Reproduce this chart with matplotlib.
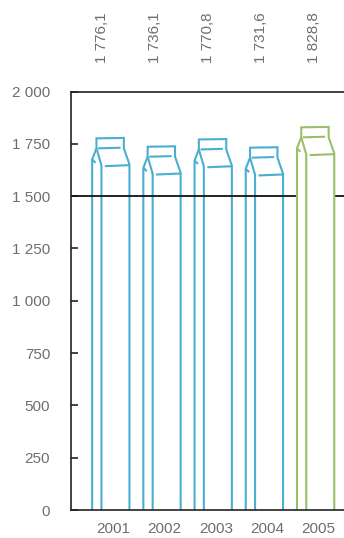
import matplotlib
matplotlib.use("Agg")
import matplotlib.pyplot as plt
import matplotlib.transforms as mtransforms

plt.rcParams['font.family'] = ['Liberation Sans', 'DejaVu Sans']

# Data
years = ["2001", "2002", "2003", "2004", "2005"]
values = [1776.1, 1736.1, 1770.8, 1731.6, 1828.8]
colors = ["#4aaed1", "#4aaed1", "#4aaed1", "#4aaed1", "#9bbe6b"]
y_ticks = [0, 250, 500, 750, 1000, 1250, 1500, 1750, 2000]
reference_level = 1500

TEXT = "#6e6e6e"
AXIS = "#222222"


def fmt_thousands(v, decimals=0):
    s = f"{v:,.{decimals}f}"
    return s.replace(",", " ").replace(".", ",")


fig = plt.figure(figsize=(3.44, 5.38), dpi=100)
W_PX, H_PX = 344, 538
left_px, right_px, top_px, bottom_px = 71, 344, 91.5, 510
ax = fig.add_axes([left_px / W_PX, 1 - bottom_px / H_PX,
                   (right_px - left_px) / W_PX, (bottom_px - top_px) / H_PX])

step_px = 51.2
x0 = -(110.8 - left_px) / step_px
ax.set_xlim(x0, x0 + (right_px - left_px) / step_px)
ax.set_ylim(0, 2000)

# unit conversions for carton geometry (pixel-like sizes -> data units)
ux = 1.0 / step_px
uy = 2000.0 / (bottom_px - top_px)
carton_w = 37.3 * ux


def draw_carton(ax, xc, top, color, filled, z):
    L = xc - carton_w / 2

    def P(dx, dy):
        return L + dx * ux, top - dy * uy

    outline = [(L, 0), P(0, 21), P(4.3, 10), P(4.3, 0), P(31.7, -0.4),
               P(31.7, 10), P(37.3, 26), (L + 37.3 * ux, 0)]
    if filled:
        ax.fill([p[0] for p in outline], [p[1] for p in outline],
                color="white", zorder=z, lw=0)
    kw = dict(color=color, lw=1.5, zorder=z + 0.1,
              solid_joinstyle="miter", solid_capstyle="butt")
    ax.plot([p[0] for p in outline], [p[1] for p in outline], **kw)
    # front face edge
    front = [P(4.3, 10), P(9.3, 27), (L + 9.3 * ux, 0)]
    ax.plot([p[0] for p in front], [p[1] for p in front], **kw)
    # roof fold lines
    for a, b in [((6, 10), (28.3, 9.4)),
                 ((12.7, 27.8), (37.5, 26.8)),
                 ((0, 21), (3.4, 24.5))]:
        pa, pb = P(*a), P(*b)
        ax.plot([pa[0], pb[0]], [pa[1], pb[1]], **kw)


for i, (v, c) in enumerate(zip(values, colors)):
    highlighted = i == len(values) - 1
    draw_carton(ax, i, v, c, filled=highlighted, z=4 if highlighted else 1)

# reference line at 1500
ax.axhline(reference_level, color="#111111", lw=1.3, zorder=2)

# spines
for side in ["left", "top", "bottom"]:
    ax.spines[side].set_color(AXIS)
    ax.spines[side].set_linewidth(1.2)
    ax.spines[side].set_zorder(5)
ax.spines["right"].set_visible(False)

ax.set_yticks(y_ticks)
ax.set_yticklabels([fmt_thousands(t) for t in y_ticks])
ax.tick_params(axis="y", direction="in", length=4.8, width=1.2, color=AXIS,
               pad=15, labelsize=11, labelcolor=TEXT)
ax.set_xticks([])

# year labels under the axis
for i, yr in enumerate(years):
    ax.annotate(yr, xy=(i + 0.05, 0), xytext=(0, -13.5), textcoords="offset points",
                ha="center", va="center", fontsize=11, color=TEXT,
                annotation_clip=False)

# value labels above the plot
trans = mtransforms.blended_transform_factory(ax.transData, ax.transAxes)
for i, v in enumerate(values):
    ax.text(-0.18 + 1.039 * i, 1 + 28.5 / (bottom_px - top_px),
            fmt_thousands(v, 1), rotation=90, ha="center", va="bottom",
            fontsize=11, color=TEXT, transform=trans, clip_on=False)

fig.savefig("out.png", dpi=100)
